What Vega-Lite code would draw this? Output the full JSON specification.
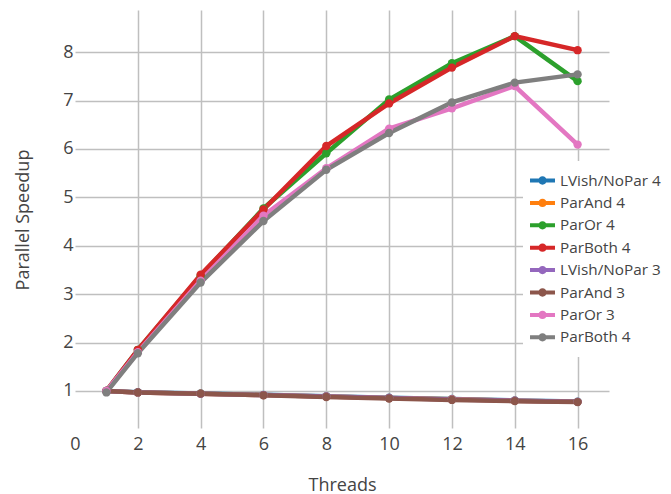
{
  "$schema": "https://vega.github.io/schema/vega-lite/v6.json",
  "width": 534,
  "height": 418,
  "autosize": {"type": "none"},
  "padding": {"left": 75, "top": 10, "right": 62, "bottom": 66},
  "background": "white",
  "config": {
    "font": "Open Sans",
    "view": {"stroke": null},
    "axis": {"labelFont": "Open Sans", "titleFont": "Open Sans", "labelColor": "#444", "titleColor": "#444", "titleFontWeight": "normal", "domain": false, "ticks": false, "tickSize": 0, "gridColor": "#bfbfbf", "gridWidth": 1.5}
  },
  "data": {"values": [
    {"series": "LVish/NoPar 4", "threads": 1, "speedup": 1.0},
    {"series": "LVish/NoPar 4", "threads": 2, "speedup": 0.975},
    {"series": "LVish/NoPar 4", "threads": 4, "speedup": 0.95},
    {"series": "LVish/NoPar 4", "threads": 6, "speedup": 0.92},
    {"series": "LVish/NoPar 4", "threads": 8, "speedup": 0.89},
    {"series": "LVish/NoPar 4", "threads": 10, "speedup": 0.86},
    {"series": "LVish/NoPar 4", "threads": 12, "speedup": 0.835},
    {"series": "LVish/NoPar 4", "threads": 14, "speedup": 0.805},
    {"series": "LVish/NoPar 4", "threads": 16, "speedup": 0.78},
    {"series": "ParAnd 4", "threads": 1, "speedup": 1.0},
    {"series": "ParAnd 4", "threads": 2, "speedup": 0.97},
    {"series": "ParAnd 4", "threads": 4, "speedup": 0.945},
    {"series": "ParAnd 4", "threads": 6, "speedup": 0.915},
    {"series": "ParAnd 4", "threads": 8, "speedup": 0.885},
    {"series": "ParAnd 4", "threads": 10, "speedup": 0.855},
    {"series": "ParAnd 4", "threads": 12, "speedup": 0.83},
    {"series": "ParAnd 4", "threads": 14, "speedup": 0.8},
    {"series": "ParAnd 4", "threads": 16, "speedup": 0.775},
    {"series": "ParOr 4", "threads": 1, "speedup": 1.0},
    {"series": "ParOr 4", "threads": 2, "speedup": 1.85},
    {"series": "ParOr 4", "threads": 4, "speedup": 3.38},
    {"series": "ParOr 4", "threads": 6, "speedup": 4.77},
    {"series": "ParOr 4", "threads": 8, "speedup": 5.91},
    {"series": "ParOr 4", "threads": 10, "speedup": 7.02},
    {"series": "ParOr 4", "threads": 12, "speedup": 7.77},
    {"series": "ParOr 4", "threads": 14, "speedup": 8.33},
    {"series": "ParOr 4", "threads": 16, "speedup": 7.4},
    {"series": "ParBoth 4", "threads": 1, "speedup": 1.0},
    {"series": "ParBoth 4", "threads": 2, "speedup": 1.85},
    {"series": "ParBoth 4", "threads": 4, "speedup": 3.4},
    {"series": "ParBoth 4", "threads": 6, "speedup": 4.75},
    {"series": "ParBoth 4", "threads": 8, "speedup": 6.06},
    {"series": "ParBoth 4", "threads": 10, "speedup": 6.94},
    {"series": "ParBoth 4", "threads": 12, "speedup": 7.68},
    {"series": "ParBoth 4", "threads": 14, "speedup": 8.33},
    {"series": "ParBoth 4", "threads": 16, "speedup": 8.04},
    {"series": "LVish/NoPar 3", "threads": 1, "speedup": 1.0},
    {"series": "LVish/NoPar 3", "threads": 2, "speedup": 0.97},
    {"series": "LVish/NoPar 3", "threads": 4, "speedup": 0.94},
    {"series": "LVish/NoPar 3", "threads": 6, "speedup": 0.915},
    {"series": "LVish/NoPar 3", "threads": 8, "speedup": 0.885},
    {"series": "LVish/NoPar 3", "threads": 10, "speedup": 0.855},
    {"series": "LVish/NoPar 3", "threads": 12, "speedup": 0.825},
    {"series": "LVish/NoPar 3", "threads": 14, "speedup": 0.8},
    {"series": "LVish/NoPar 3", "threads": 16, "speedup": 0.775},
    {"series": "ParAnd 3", "threads": 1, "speedup": 1.0},
    {"series": "ParAnd 3", "threads": 2, "speedup": 0.97},
    {"series": "ParAnd 3", "threads": 4, "speedup": 0.945},
    {"series": "ParAnd 3", "threads": 6, "speedup": 0.91},
    {"series": "ParAnd 3", "threads": 8, "speedup": 0.875},
    {"series": "ParAnd 3", "threads": 10, "speedup": 0.845},
    {"series": "ParAnd 3", "threads": 12, "speedup": 0.815},
    {"series": "ParAnd 3", "threads": 14, "speedup": 0.79},
    {"series": "ParAnd 3", "threads": 16, "speedup": 0.77},
    {"series": "ParOr 3", "threads": 1, "speedup": 1.0},
    {"series": "ParOr 3", "threads": 2, "speedup": 1.8},
    {"series": "ParOr 3", "threads": 4, "speedup": 3.28},
    {"series": "ParOr 3", "threads": 6, "speedup": 4.62},
    {"series": "ParOr 3", "threads": 8, "speedup": 5.6},
    {"series": "ParOr 3", "threads": 10, "speedup": 6.42},
    {"series": "ParOr 3", "threads": 12, "speedup": 6.84},
    {"series": "ParOr 3", "threads": 14, "speedup": 7.3},
    {"series": "ParOr 3", "threads": 16, "speedup": 6.09},
    {"series": "ParBoth 4 #2", "threads": 1, "speedup": 0.97},
    {"series": "ParBoth 4 #2", "threads": 2, "speedup": 1.78},
    {"series": "ParBoth 4 #2", "threads": 4, "speedup": 3.24},
    {"series": "ParBoth 4 #2", "threads": 6, "speedup": 4.51},
    {"series": "ParBoth 4 #2", "threads": 8, "speedup": 5.57},
    {"series": "ParBoth 4 #2", "threads": 10, "speedup": 6.33},
    {"series": "ParBoth 4 #2", "threads": 12, "speedup": 6.96},
    {"series": "ParBoth 4 #2", "threads": 14, "speedup": 7.37},
    {"series": "ParBoth 4 #2", "threads": 16, "speedup": 7.54}
  ]},
  "encoding": {
    "x": {"field": "threads", "type": "quantitative",
      "scale": {"domain": [0, 17], "nice": false, "zero": false},
      "axis": {"title": "Threads", "values": [0, 2, 4, 6, 8, 10, 12, 14, 16], "labelFontSize": 18, "labelFlush": false, "labelBaseline": "alphabetic", "labelPadding": 21.5, "titleFontSize": 18, "titleBaseline": "alphabetic", "titleX": 267, "titleY": 62,
        "gridOpacity": {"condition": {"test": "datum.value == 0", "value": 0}, "value": 1}}},
    "y": {"field": "speedup", "type": "quantitative",
      "scale": {"domain": [0.235, 8.87], "nice": false, "zero": false},
      "axis": {"title": "Parallel Speedup", "values": [1, 2, 3, 4, 5, 6, 7, 8], "labelFontSize": 18, "labelPadding": 2, "titleFontSize": 18, "titleBaseline": "alphabetic", "titleX": -47, "titleY": 209.5, "titleAngle": -90}},
    "color": {"field": "series", "type": "nominal",
      "scale": {"domain": ["LVish/NoPar 4", "ParAnd 4", "ParOr 4", "ParBoth 4", "LVish/NoPar 3", "ParAnd 3", "ParOr 3", "ParBoth 4 #2"],
        "range": ["#1f77b4", "#ff7f0e", "#2ca02c", "#d62728", "#9467bd", "#8c564b", "#e377c2", "#7f7f7f"]},
      "legend": {"title": null, "orient": "none", "legendX": 448, "legendY": 151, "fillColor": "white", "padding": 11,
        "labelExpr": "replace(datum.label, ' #2', '')", "labelFont": "Open Sans", "labelFontSize": 15.3, "labelColor": "#444", "labelOffset": 9,
        "symbolType": "M-1.47,-0.235L1.47,-0.235L1.47,0.235L-1.47,0.235ZM-0.49,0A0.49,0.49,0,1,1,0.49,0A0.49,0.49,0,1,1,-0.49,0Z",
        "symbolSize": 289, "symbolStrokeWidth": 0, "rowPadding": 5.4,
        "encode": {"symbols": {"update": {"fill": {"scale": "color", "field": "value"}, "strokeWidth": {"value": 0}, "opacity": {"value": 1}}}}}}
  },
  "layer": [
    {"mark": {"type": "line", "strokeWidth": 4.5}},
    {"mark": {"type": "point", "filled": true, "size": 70, "opacity": 1}}
  ]
}
